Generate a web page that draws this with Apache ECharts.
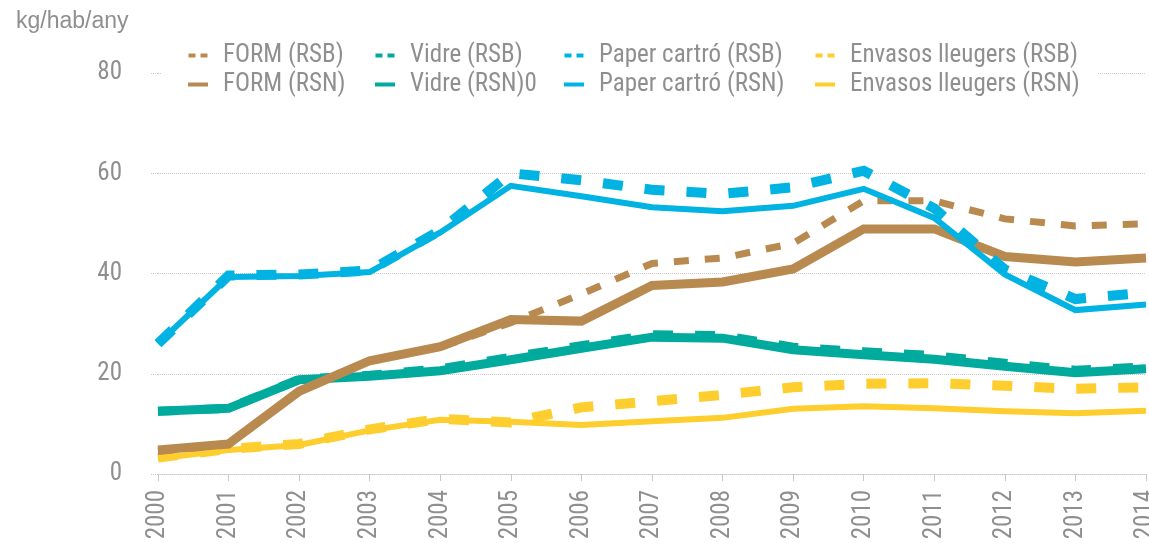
<!DOCTYPE html>
<html>
<head>
<meta charset="utf-8">
<script src="https://cdn.jsdelivr.net/npm/echarts@6/dist/echarts.min.js"></script>
<style>
html,body{margin:0;padding:0;background:#fff;}
#chart{width:1149px;height:543px;}
</style>
</head>
<body>
<div id="chart"></div>
<script>
const years = ['2000','2001','2002','2003','2004','2005','2006','2007','2008','2009','2010','2011','2012','2013','2014'];
const yTicks = [0, 20, 40, 60, 80];
const unitLabel = 'kg/hab/any';

const formRSB   = [4.5, 5.8, 16.5, 22.6, 25.3, 30.2, 35.9, 42.0, 43.1, 46.0, 54.5, 54.5, 50.9, 49.5, 49.9];
const formRSN   = [4.8, 6.0, 16.5, 22.6, 25.4, 30.8, 30.5, 37.6, 38.3, 40.9, 48.9, 48.9, 43.4, 42.3, 43.1];
const vidreRSB  = [12.5, 13.1, 18.9, 19.7, 21.0, 23.3, 25.6, 27.8, 27.6, 25.3, 24.4, 23.6, 22.1, 20.7, 21.4];
const vidreRSN  = [12.5, 13.1, 18.8, 19.5, 20.6, 22.8, 25.1, 27.3, 27.1, 24.8, 23.8, 22.9, 21.5, 20.2, 21.0];
const paperRSB  = [26.0, 39.6, 39.8, 40.6, 48.6, 60.0, 58.6, 56.7, 55.9, 57.2, 60.5, 53.0, 40.8, 34.9, 36.2];
const paperRSN  = [26.0, 39.3, 39.5, 40.3, 48.2, 57.5, 55.4, 53.2, 52.4, 53.5, 56.9, 51.1, 39.8, 32.7, 33.8];
const envRSB    = [3.3, 5.0, 6.0, 8.9, 11.0, 10.3, 13.3, 14.5, 15.8, 17.3, 18.0, 18.1, 17.6, 17.0, 17.3];
const envRSN    = [3.1, 4.8, 5.8, 8.7, 10.8, 10.4, 9.8, 10.5, 11.2, 13.0, 13.5, 13.1, 12.5, 12.1, 12.6];

const C = { form:'#B98A50', vidre:'#00AB9E', paper:'#00B3E2', env:'#FDCE2E' };
const FONT = "'Liberation Sans Narrow', 'Roboto Condensed', 'DejaVu Sans Condensed', sans-serif";
const GRAY = '#8f8f8f';
const DASH_ICON = 'path://M0,0h7v4h-7z M12,0h7v4h-7z';

function line(name, data, color, width, dash, z) {
  return {
    name, type:'line', data, symbol:'none', smooth:false, z,
    itemStyle:{color},
    lineStyle:{color, width, type: dash || 'solid', cap:'butt', join:'miter'},
    emphasis:{disabled:true}
  };
}

function legend(left, names) {
  return {
    orient:'vertical', left, top:41, padding:0, itemGap:0,
    itemWidth:20, itemHeight:4,
    backgroundColor:'transparent',
    textStyle:{color:GRAY, fontSize:25, fontFamily:FONT, lineHeight:29, padding:[0,0,0,10]},
    data:[{name:names[0], icon:DASH_ICON},{name:names[1], icon:'rect'}]
  };
}

const chart = echarts.init(document.getElementById('chart'), null, {renderer:'canvas'});
chart.setOption({
  animation:false,
  backgroundColor:'#fff',
  title:{text:unitLabel, left:16, top:10, padding:0, textStyle:{color:GRAY, fontSize:23, fontWeight:'normal', fontFamily:"'Liberation Sans', Arial, sans-serif"}},
  graphic:[{type:'rect', left:162, top:45, z:3, shape:{width:935, height:55}, style:{fill:'#fff'}}],
  legend:[
    legend(188, ['FORM (RSB)','FORM (RSN)']),
    legend(375, ['Vidre (RSB)','Vidre (RSN)0']),
    legend(564, ['Paper cartró (RSB)','Paper cartró (RSN)']),
    legend(815, ['Envasos lleugers (RSB)','Envasos lleugers (RSN)'])
  ],
  grid:{left:158, right:3, top:73, bottom:69, containLabel:false, outerBoundsMode:'none'},
  xAxis:{
    type:'category', data:years, boundaryGap:false,
    axisLine:{show:true, lineStyle:{color:'#c8c8c8', type:'dotted', width:1}},
    axisTick:{show:true, length:7, alignWithLabel:true, lineStyle:{color:'#c8c8c8'}},
    axisLabel:{rotate:90, margin:16, color:GRAY, fontSize:25, fontFamily:FONT},
    splitLine:{show:false}
  },
  yAxis:{
    type:'value', min:yTicks[0], max:yTicks[yTicks.length-1], interval:20,
    axisLine:{show:false},
    axisTick:{show:true, length:8, lineStyle:{color:'#c8c8c8', type:'dotted'}},
    axisLabel:{margin:36, color:GRAY, fontSize:25, fontFamily:FONT},
    splitLine:{show:true, lineStyle:{color:'#c8c8c8', type:'dotted', width:1}}
  },
  series:[
    line('Vidre (RSN)0', vidreRSN, C.vidre, 9, null, 2),
    line('Vidre (RSB)', vidreRSB, C.vidre, 9, [20,22], 2),
    line('Envasos lleugers (RSN)', envRSN, C.env, 6, null, 2),
    line('Envasos lleugers (RSB)', envRSB, C.env, 10, [20,22], 2),
    line('FORM (RSN)', formRSN, C.form, 9, null, 2),
    line('FORM (RSB)', formRSB, C.form, 7, [15,16], 2),
    line('Paper cartró (RSN)', paperRSN, C.paper, 6, null, 2),
    line('Paper cartró (RSB)', paperRSB, C.paper, 10, [20,22], 2)
  ]
});
</script>
</body>
</html>
